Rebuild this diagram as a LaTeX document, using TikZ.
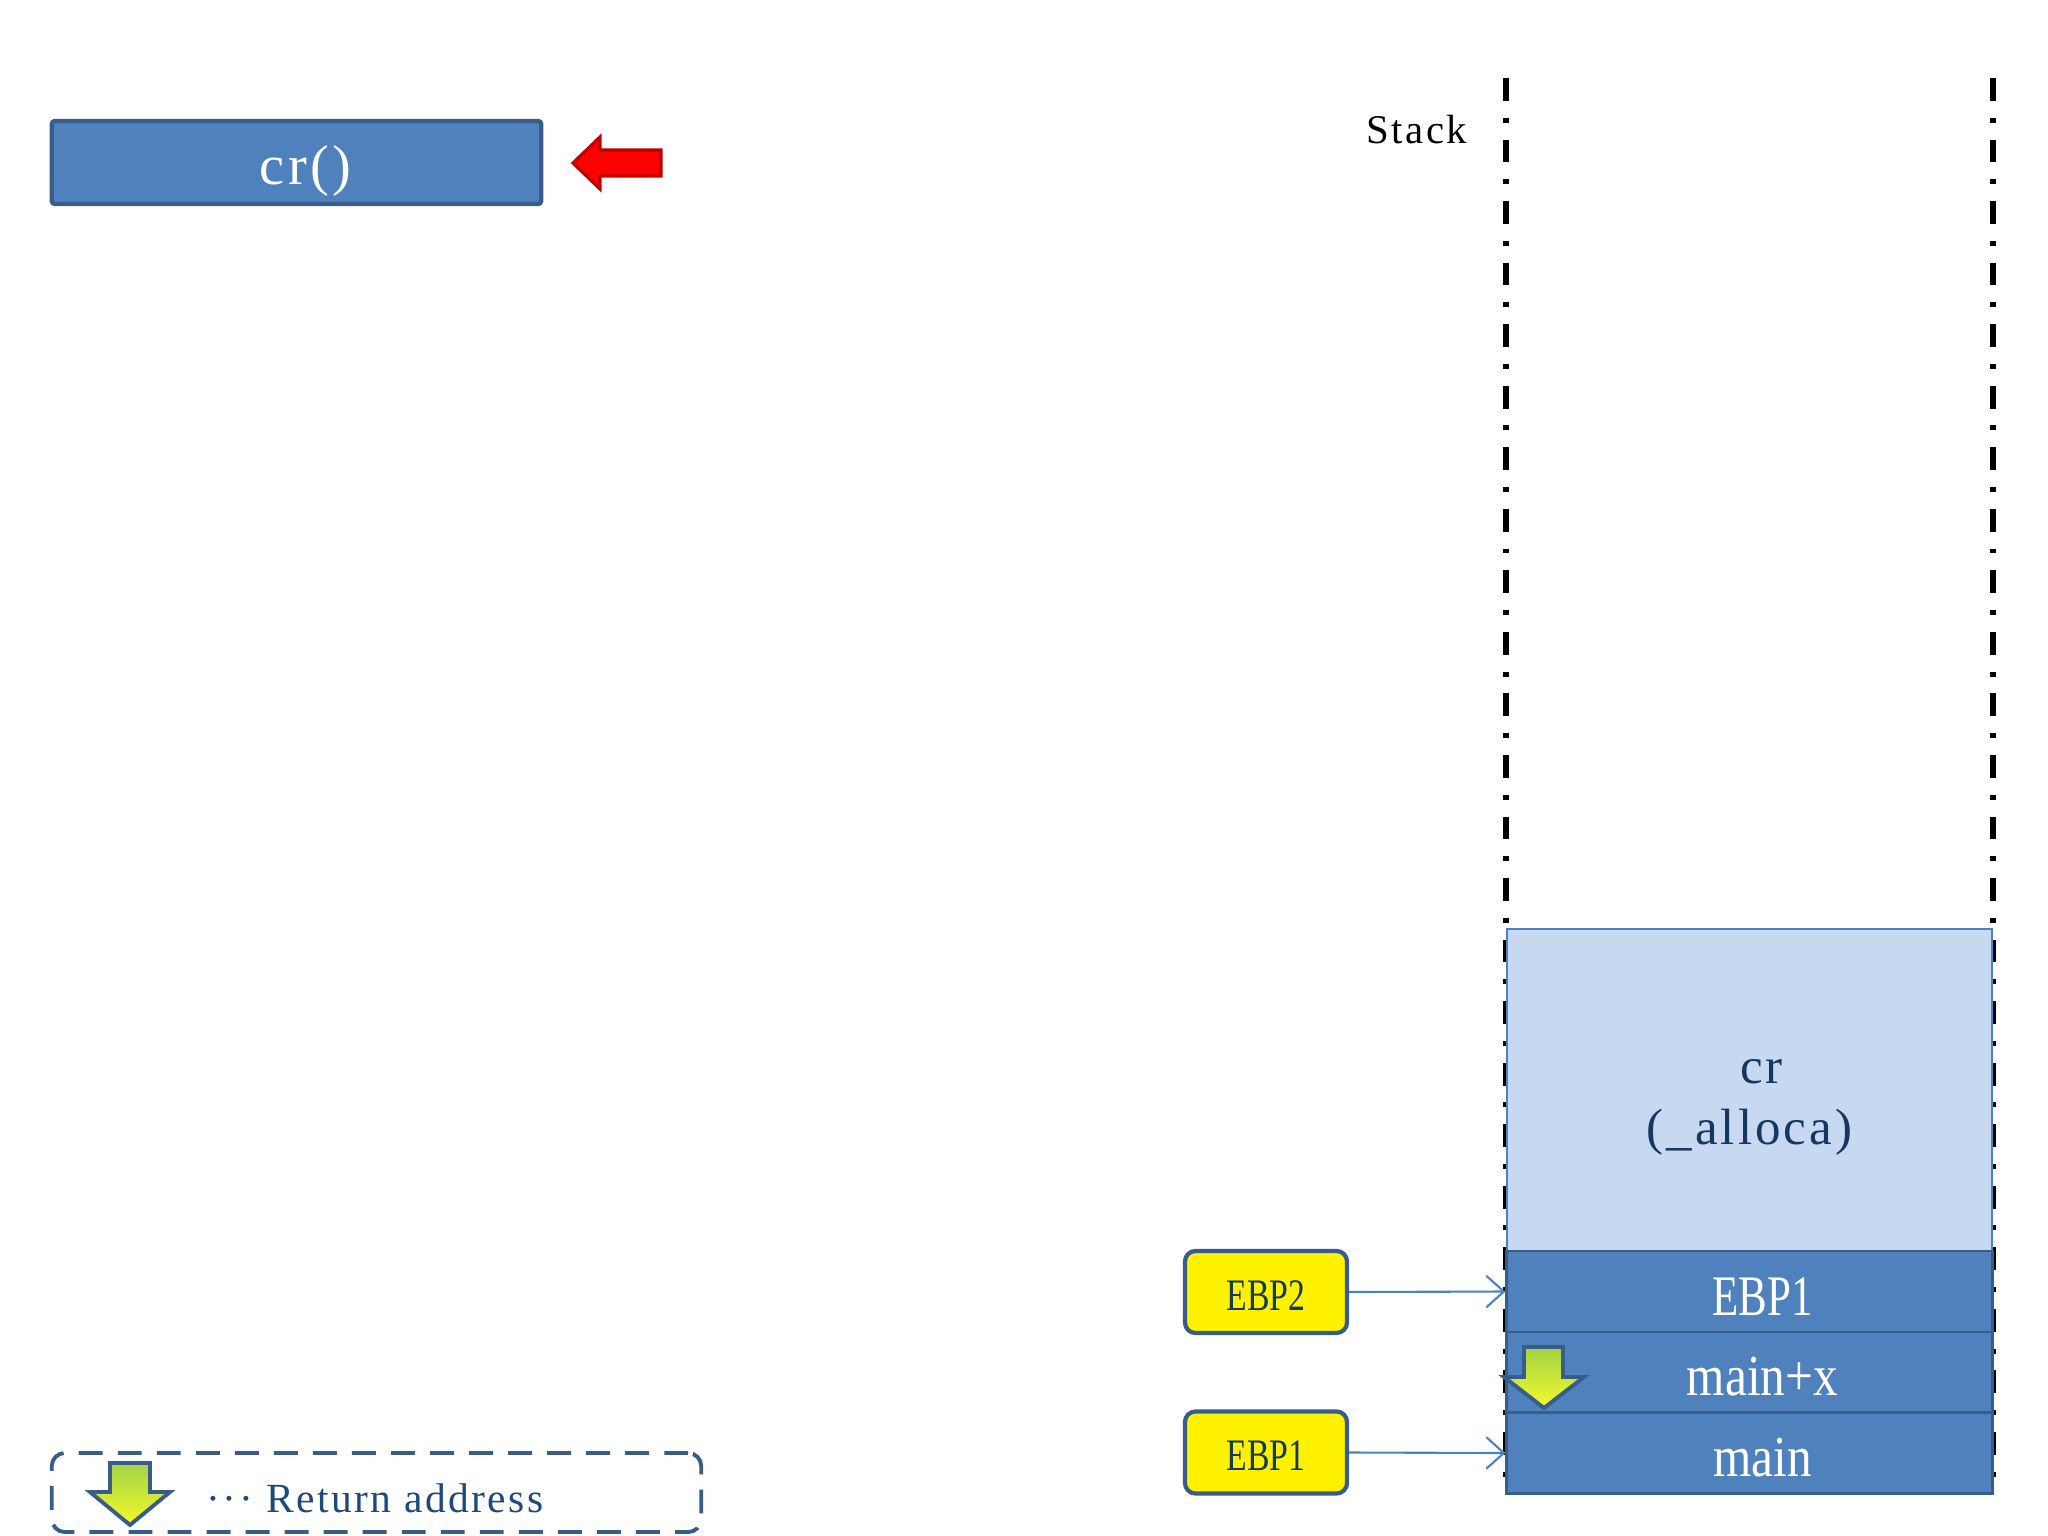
\documentclass[tikz,border=0pt]{standalone}
\usepackage{fontspec}
\setmainfont{Liberation Serif}
\newfontfamily\simfont[LetterSpace=6]{Liberation Serif}
\newfontfamily\condfont[FakeStretch=0.85]{Liberation Serif}
\newfontfamily\ebpfont[FakeStretch=0.75]{Liberation Serif}
\usetikzlibrary{arrows.meta}
\definecolor{accent}{HTML}{4F81BD}
\definecolor{accentdk}{HTML}{385D8A}
\definecolor{lightfill}{HTML}{C6D9F1}
\definecolor{navy}{HTML}{17375E}
\definecolor{legendtext}{HTML}{1F497D}
\definecolor{redfill}{HTML}{FF0000}
\definecolor{redline}{HTML}{C00000}
\definecolor{greentop}{HTML}{A2D246}
\definecolor{yellowbot}{HTML}{F4FA2A}
\begin{document}
\begin{tikzpicture}[x=0.01cm,y=-0.01cm,
  crbox/.style={draw=accentdk, fill=accent, line width=1.2pt, rounded corners=0.8pt,
    minimum width=4.89cm, minimum height=0.83cm, inner sep=0pt, text=white,
    text height=0.43cm, text depth=0pt,
    font=\simfont\fontsize{16}{19}\selectfont},
  allocbox/.style={draw=accent, fill=lightfill, line width=0.6pt,
    minimum width=4.85cm, minimum height=3.22cm, inner sep=0pt},
  alloctext/.style={text=navy, align=center, inner sep=0pt,
    font=\simfont\fontsize{14.5}{17.4}\selectfont},
  rowbox/.style={draw=accentdk, fill=accent, line width=0.8pt,
    minimum width=4.85cm, minimum height=0.81cm, inner sep=0pt, text=white,
    text depth=0pt, font=\condfont\fontsize{16.5}{20}\selectfont},
  ybox/.style={draw=accentdk, fill=yellow, line width=1.2pt, rounded corners=3pt,
    minimum width=1.62cm, minimum height=0.82cm, inner sep=0pt, text=navy,
    text height=0.36cm, text depth=0pt,
    font=\ebpfont\fontsize{12.8}{15}\selectfont},
  legendbox/.style={draw=accentdk, line width=1.1pt, rounded corners=3.7pt,
    dash pattern=on 6.8pt off 4.3pt, minimum width=6.49cm, minimum height=0.79cm, inner sep=0pt},
  stackline/.style={line width=1.5pt, dash pattern=on 6.5pt off 4.8pt on 1.4pt off 4.8pt},
  ptr/.style={draw=accent, line width=0.6pt, -{Straight Barb[length=5pt,width=9pt]}},
  blockred/.style={fill=redfill, draw=redline, line width=0.9pt, line join=miter},
  blockgreen/.style={top color=greentop, bottom color=yellowbot, draw=accentdk, line width=1.1pt, line join=miter}
]
\useasboundingbox (0,0) rectangle (2048,1536);
\fill[white] (0,0) rectangle (2048,1536);

% top function box and red pointer
\node[crbox] (crfun) at (296.5,162.5) {\hspace*{0.18cm}cr()};
\path[blockred] (661,150) -- (600,150) -- (600,137) -- (573,163) -- (600,189) -- (600,176) -- (661,176) -- cycle;

% stack label and boundary lines
\node[font=\simfont\fontsize{11.6}{14}\selectfont, inner sep=0pt] (stacklabel) at (1417,130) {Stack};
\draw[stackline] (1506,78) -- (1506,1493);
\draw[stackline] (1993,78) -- (1993,1493);

% stack frames
\node[allocbox] (alloca) at (1749.5,1090) {};
\node[alloctext] (alloclabel) at (1749.5,1107) {\hspace*{0.24cm}cr\\(\_alloca)};
\node[rowbox, text height=0.47cm, font=\ebpfont\fontsize{16.3}{20}\selectfont] (ebprow) at (1749.5,1291.5) {\hspace*{0.26cm}EBP1};
\node[rowbox, text height=0.45cm] (retrow) at (1749.5,1372.5) {\hspace*{0.26cm}main+x};
\node[rowbox, text height=0.46cm] (mainrow) at (1749.5,1453) {\hspace*{0.26cm}main};

% return-address marker
\path[blockgreen] (1524,1347) -- (1563,1347) -- (1563,1377) -- (1584,1377) -- (1544,1408) -- (1504,1377) -- (1524,1377) -- cycle;

% frame pointers
\node[ybox] (ebp2) at (1266,1292) {EBP2};
\node[ybox] (ebp1) at (1266,1452.5) {EBP1};
\draw[ptr] (ebp2.east) -- (ebprow.west);
\draw[ptr] (ebp1.east) -- (mainrow.west);

% legend
\node[legendbox] (legend) at (376.5,1492.5) {};
\path[blockgreen] (110,1463) -- (150,1463) -- (150,1492) -- (170,1492) -- (130,1525) -- (90,1492) -- (110,1492) -- cycle;
\node[anchor=west, inner sep=0pt, text=legendtext, font=\simfont\fontsize{11.8}{14}\selectfont] (legendtxt) at (206,1498) {··· Return address};
\end{tikzpicture}
\end{document}
